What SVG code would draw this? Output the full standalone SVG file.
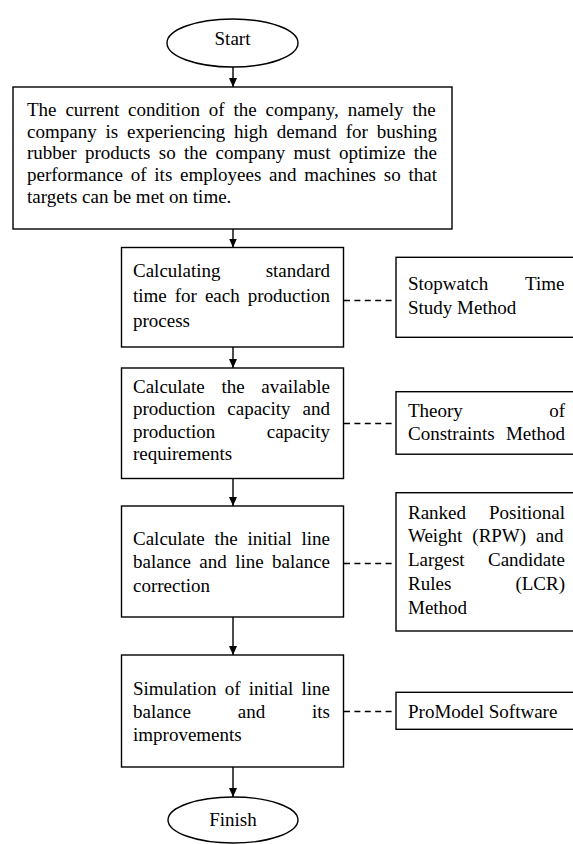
<svg xmlns="http://www.w3.org/2000/svg" width="573" height="844" viewBox="0 0 573 844">
<style>
.box{fill:#fff;stroke:#000;stroke-width:1.4}
.t{font-family:"Liberation Serif","Times New Roman",serif;font-size:19px;fill:#000}
.e{text-anchor:end}
.m{text-anchor:middle}
.arr{stroke:#000;stroke-width:1.4;fill:none;marker-end:url(#ah)}
.dash{stroke:#000;stroke-width:1.3;fill:none;stroke-dasharray:6 4.4}
</style>
<defs>
<marker id="ah" markerUnits="userSpaceOnUse" markerWidth="9" markerHeight="9" viewBox="0 0 9 8" refX="9" refY="4" orient="auto">
<path d="M0,0 L9,4 L0,8 Z" fill="#000"/>
</marker>
</defs>
<rect width="573" height="844" fill="#fff"/>
<g id="connectors">
<line class="arr" x1="233" y1="67" x2="233" y2="87"/>
<line class="arr" x1="233" y1="229" x2="233" y2="247.5"/>
<line class="arr" x1="233" y1="347" x2="233" y2="368"/>
<line class="arr" x1="233" y1="478.5" x2="233" y2="506"/>
<line class="arr" x1="233" y1="617" x2="233" y2="655"/>
<line class="arr" x1="233" y1="767" x2="233" y2="797"/>
<line class="dash" x1="344" y1="300.5" x2="396" y2="300.5"/>
<line class="dash" x1="344" y1="423.5" x2="396" y2="423.5"/>
<line class="dash" x1="344" y1="563.5" x2="396" y2="563.5"/>
<line class="dash" x1="344" y1="711.5" x2="396" y2="711.5"/>
</g>
<g id="start">
<ellipse class="box" cx="232.5" cy="43" rx="65.5" ry="24"/>
<text class="t m" x="232.5" y="44.5">Start</text>
</g>
<g id="condition">
<rect class="box" x="13" y="87" width="439" height="142"/>
<text class="t" x="27" y="115.7" word-spacing="4.14">The current condition of the company, namely the</text>
<text class="t" x="27" y="137.5" word-spacing="4.13">company is experiencing high demand for bushing</text>
<text class="t" x="27" y="159.2" word-spacing="3.61">rubber products so the company must optimize the</text>
<text class="t" x="27" y="181" word-spacing="3.01">performance of its employees and machines so that</text>
<text class="t" x="27" y="202.7">targets can be met on time.</text>
</g>
<g id="standard-time">
<rect class="box" x="121.5" y="247.5" width="222" height="99.5"/>
<text class="t" x="133" y="276.7">Calculating</text>
<text class="t e" x="330" y="276.7">standard</text>
<text class="t" x="133" y="302" word-spacing="3.23">time for each production</text>
<text class="t" x="133" y="327">process</text>
</g>
<g id="stopwatch">
<rect class="box" x="396" y="257.3" width="190" height="80"/>
<text class="t" x="408" y="290">Stopwatch</text>
<text class="t e" x="564.5" y="290">Time</text>
<text class="t" x="408" y="314">Study Method</text>
</g>
<g id="capacity">
<rect class="box" x="121.5" y="368" width="222" height="110.5"/>
<text class="t" x="133" y="392.7" word-spacing="11.96">Calculate the available</text>
<text class="t" x="133" y="415.2" word-spacing="7.2">production capacity and</text>
<text class="t" x="133" y="437.7">production</text>
<text class="t e" x="330" y="437.7">capacity</text>
<text class="t" x="133" y="460.2">requirements</text>
</g>
<g id="toc">
<rect class="box" x="396" y="391.7" width="190" height="62.5"/>
<text class="t" x="408" y="416.7">Theory</text>
<text class="t e" x="565" y="416.7">of</text>
<text class="t" x="408" y="440" word-spacing="6.6">Constraints Method</text>
</g>
<g id="line-balance">
<rect class="box" x="121.5" y="506" width="222" height="111"/>
<text class="t" x="133" y="545" word-spacing="4.97">Calculate the initial line</text>
<text class="t" x="133" y="568.3" word-spacing="3.6">balance and line balance</text>
<text class="t" x="133" y="591.7">correction</text>
</g>
<g id="rpw-lcr">
<rect class="box" x="396" y="492.7" width="190" height="138.3"/>
<text class="t" x="408" y="518.5">Ranked</text>
<text class="t e" x="565" y="518.5">Positional</text>
<text class="t" x="408" y="542" word-spacing="5.15">Weight (RPW) and</text>
<text class="t" x="408" y="566">Largest</text>
<text class="t e" x="565" y="566">Candidate</text>
<text class="t" x="408" y="590">Rules</text>
<text class="t e" x="565" y="590">(LCR)</text>
<text class="t" x="408" y="614">Method</text>
</g>
<g id="simulation">
<rect class="box" x="121.5" y="655" width="222" height="112"/>
<text class="t" x="133" y="695" word-spacing="3.56">Simulation of initial line</text>
<text class="t" x="133" y="718.3" word-spacing="42">balance and its</text>
<text class="t" x="133" y="740.5">improvements</text>
</g>
<g id="promodel">
<rect class="box" x="396" y="692.3" width="190" height="37"/>
<text class="t" x="408" y="717.5">ProModel Software</text>
</g>
<g id="finish">
<ellipse class="box" cx="233" cy="820" rx="65" ry="23"/>
<text class="t m" x="233" y="825.5">Finish</text>
</g>
</svg>
